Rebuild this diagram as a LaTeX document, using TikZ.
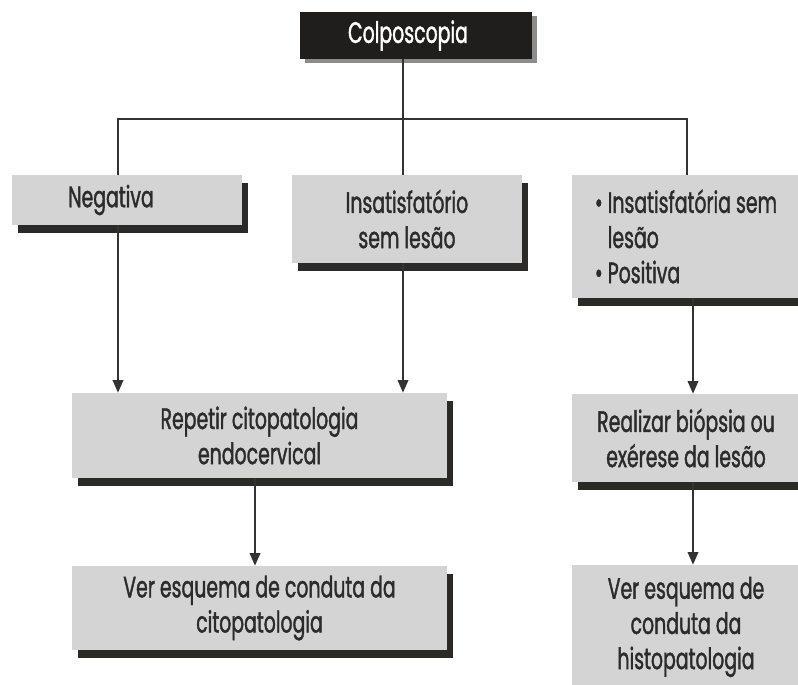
\documentclass[tikz,border=0pt]{standalone}
\usepackage{fontspec}
\setmainfont{Poppins}[FakeStretch=0.64, FakeBold=1.3]
\usetikzlibrary{arrows.meta,shadows}

\definecolor{boxgray}{HTML}{D4D4D4}
\definecolor{shadowc}{HTML}{2B2A27}
\definecolor{topc}{HTML}{1F1E1C}
\definecolor{topshadow}{HTML}{8C8C8C}
\definecolor{linec}{HTML}{333333}
\definecolor{textc}{HTML}{2B2B2B}

\tikzset{
  stepbox/.style={fill=boxgray, text=textc, align=center, inner sep=0pt,
    font=\fontsize{21}{25}\selectfont,
    drop shadow={shadow xshift=0.15cm, shadow yshift=-0.2cm, fill=shadowc, opacity=1}},
  topbox/.style={fill=topc, text=white, inner sep=0pt,
    font=\fontsize{21}{25}\selectfont,
    drop shadow={shadow xshift=0.12cm, shadow yshift=-0.1cm, fill=topshadow, opacity=1}},
  line/.style={draw=linec, line width=1.4pt},
  arr/.style={line, -{Triangle[length=9pt,width=7.5pt]}}
}

\begin{document}
\begin{tikzpicture}[x=0.025cm,y=-0.025cm]
  \useasboundingbox (0,0) rectangle (798,685);
  % top
  \node[topbox, minimum width=5.8cm, minimum height=1.175cm] (top) at (416,35.5) {Colposcopia\hspace*{0.4cm}};
  % first row
  \node[stepbox, minimum width=5.75cm, minimum height=1.25cm] (neg) at (127,200) {Negativa\hspace*{0.8cm}};
  \node[stepbox, minimum width=5.75cm, minimum height=2.2cm] (insat) at (407,219) {Insatisfatório\\sem lesão};
  \node[stepbox, minimum width=5.7cm, minimum height=3.075cm, align=left] (right) at (686,236.5)
    {\textbullet\ Insatisfatória sem\\\phantom{\textbullet\ }lesão\\\textbullet\ Positiva};
  % second row
  \node[stepbox, minimum width=9.375cm, minimum height=2.125cm] (rep) at (259.5,435.5) {Repetir citopatologia\\endocervical};
  \node[stepbox, minimum width=5.7cm, minimum height=2.2cm] (real) at (686,438) {Realizar biópsia ou\\exérese da lesão};
  % third row
  \node[stepbox, minimum width=9.375cm, minimum height=2.1cm] (vercito) at (259.5,608) {Ver esquema de conduta da\\citopatologia};
  \node[stepbox, minimum width=5.7cm, minimum height=3.1cm] (verhisto) at (686,627) {Ver esquema de\\conduta da\\histopatologia};

  % connectors
  \coordinate (hub) at (403,119);
  \coordinate (cl) at (118,119);
  \coordinate (cr) at (687,119);
  \coordinate (cm) at (255,0);
  \coordinate (cr2) at (693,0);
  \draw[line] (top.south -| hub) -- (hub);
  \draw[line] (neg.north -| cl) -- (cl) -- (cr) -- (right.north -| cr);
  \draw[line] (hub) -- (insat.north -| hub);
  \draw[arr] (neg.south -| cl) -- (rep.north -| cl);
  \draw[arr] (insat.south -| hub) -- (rep.north -| hub);
  \draw[arr] (rep.south -| cm) -- (vercito.north -| cm);
  \draw[arr] (right.south -| cr2) -- (real.north -| cr2);
  \draw[arr] (real.south -| cr2) -- (verhisto.north -| cr2);
\end{tikzpicture}
\end{document}
